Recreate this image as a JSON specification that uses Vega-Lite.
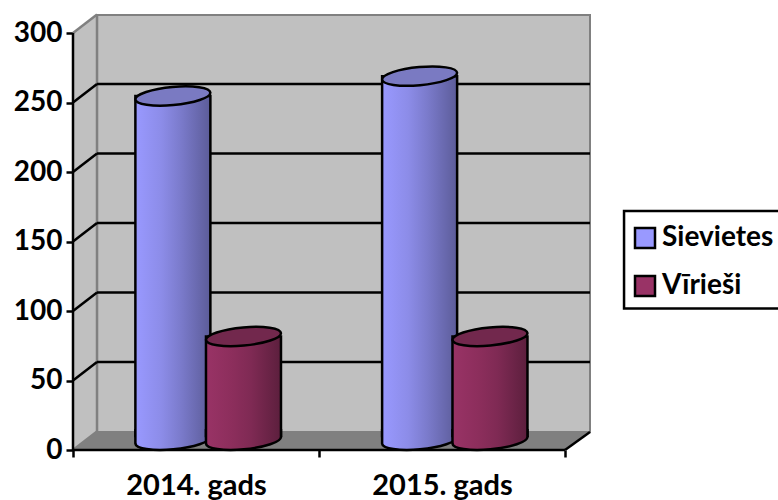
{
"$schema":"https://vega.github.io/schema/vega-lite/v6.json",
"autosize":{"type":"none"},
"width":517,"height":435,
"padding":{"left":73,"top":15,"right":188,"bottom":50},
"background":"white",
"config":{"view":{"stroke":null},"font":"Lato"},
"datasets":{
"bars":[
{"gads":"2014. gads","series":"Sievietes","pos":0.406,"value":254.7},
{"gads":"2015. gads","series":"Sievietes","pos":1.409,"value":269},
{"gads":"2014. gads","series":"Vīrieši","pos":0.693,"value":81.7},
{"gads":"2015. gads","series":"Vīrieši","pos":1.695,"value":81.7}],
"grid":[{"v":50},{"v":100},{"v":150},{"v":200},{"v":250}],
"edge":[{"v":0},{"v":300}],
"leftWall":[{"a":0,"lo":0,"hi":300},{"a":0.0976,"lo":13,"hi":313}],
"floor":[{"a":0,"lo":0,"hi":0},{"a":0.0976,"lo":0,"hi":13},{"a":2,"lo":0,"hi":13},{"a":2.1016,"lo":13,"hi":13}],
"one":[{"k":1}]
},
"encoding":{
"x":{"type":"quantitative","scale":{"domain":[0,2.1016],"nice":false,"zero":false,"padding":0},"title":null},
"y":{"type":"quantitative","scale":{"domain":[0,313],"nice":false,"padding":0},"title":null}
},
"layer":[
{"data":{"name":"one"},
 "mark":{"type":"rect","fill":"#c0c0c0","stroke":"#808080","strokeWidth":2},
 "encoding":{"x":{"datum":0.0976,"type":"quantitative",
   "axis":{"values":[0,0.5,1,1.5,2],"domain":false,"grid":false,"tickColor":"black","tickWidth":2.5,"tickSize":7,
     "tickOpacity":{"condition":{"test":"datum.value==0.5||datum.value==1.5","value":0},"value":1},
     "labelExpr":"datum.value==0.5?'2014. gads':datum.value==1.5?'2015. gads':''",
     "labelFont":"Lato","labelFontWeight":"bold","labelFontSize":29,"labelColor":"black","labelPadding":14,"labelOverlap":false,"labelBound":false,"labelFlush":false}},
  "x2":{"datum":2.1016},
  "y":{"datum":13,"type":"quantitative",
   "axis":{"values":[0,50,100,150,200,250,300],"domain":false,"grid":false,"tickColor":"black","tickWidth":2.5,"tickSize":7,
     "labelFont":"Lato","labelFontWeight":"bold","labelFontSize":28,"labelColor":"black","labelPadding":4}},
  "y2":{"datum":313}}},
{"data":{"name":"leftWall"},
 "mark":{"type":"area","fill":"#c0c0c0","opacity":1},
 "encoding":{"x":{"field":"a","type":"quantitative"},"y":{"field":"lo","type":"quantitative"},"y2":{"field":"hi"}}},
{"data":{"name":"floor"},
 "mark":{"type":"area","fill":"#808080","opacity":1},
 "encoding":{"x":{"field":"a","type":"quantitative"},"y":{"field":"lo","type":"quantitative"},"y2":{"field":"hi"}}},
{"data":{"name":"edge"},
 "mark":{"type":"rule","stroke":"#808080","strokeWidth":2.5,"y2Offset":-18.5},
 "encoding":{"x":{"datum":0},"x2":{"datum":0.0976},"y":{"field":"v","type":"quantitative"},"y2":{"field":"v"}}},
{"data":{"name":"one"},
 "mark":{"type":"rule","stroke":"#808080","strokeWidth":2.5},
 "encoding":{"x":{"datum":0.0976},"y":{"datum":13},"y2":{"datum":313}}},
{"data":{"name":"grid"},
 "mark":{"type":"rule","stroke":"black","strokeWidth":2.5,"y2Offset":-18.5},
 "encoding":{"x":{"datum":0},"x2":{"datum":0.0976},"y":{"field":"v","type":"quantitative"},"y2":{"field":"v"}}},
{"data":{"name":"grid"},
 "mark":{"type":"rule","stroke":"black","strokeWidth":2.5,"yOffset":-18.5},
 "encoding":{"x":{"datum":0.0976},"x2":{"datum":2.1016},"y":{"field":"v","type":"quantitative"}}},
{"data":{"name":"one"},
 "mark":{"type":"rule","stroke":"black","strokeWidth":2.5},
 "encoding":{"x":{"datum":0},"y":{"datum":0},"y2":{"datum":300}}},
{"data":{"name":"one"},
 "mark":{"type":"rule","stroke":"black","strokeWidth":2.5},
 "encoding":{"x":{"datum":0},"x2":{"datum":2},"y":{"datum":0}}},
{"data":{"name":"one"},
 "mark":{"type":"rule","stroke":"black","strokeWidth":2.5},
 "encoding":{"x":{"datum":2},"x2":{"datum":2.1016},"y":{"datum":0},"y2":{"datum":13}}},

{"data":{"name":"bars"},"transform":[{"filter":"datum.series=='Sievietes'"}],
 "mark":{"type":"bar","orient":"vertical","size":75,"stroke":"black","strokeWidth":2.5,
  "fill":{"x1":0,"y1":0,"x2":1,"y2":0,"gradient":"linear","stops":[{"offset":0,"color":"#9999ff"},{"offset":0.35,"color":"#8c8ce8"},{"offset":0.6,"color":"#7b7bcc"},{"offset":1,"color":"#5c5c99"}]}},
 "encoding":{"x":{"field":"pos","type":"quantitative"},"y":{"field":"value","type":"quantitative"},"y2":{"datum":10}}},
{"data":{"name":"bars"},"transform":[{"filter":"datum.series=='Sievietes'"}],
 "mark":{"type":"point","filled":true,"opacity":1,"size":5625,"stroke":"black","strokeWidth":2.5,
  "shape":"M-1,-0.3 L-1,0.09 A1,0.24 -5.3 0 0 1,-0.09 L1,-0.3",
  "fill":{"x1":0,"y1":0,"x2":1,"y2":0,"gradient":"linear","stops":[{"offset":0,"color":"#9999ff"},{"offset":0.35,"color":"#8c8ce8"},{"offset":0.6,"color":"#7b7bcc"},{"offset":1,"color":"#5c5c99"}]}},
 "encoding":{"x":{"field":"pos","type":"quantitative"},"y":{"datum":7}}},
{"data":{"name":"bars"},"transform":[{"filter":"datum.series=='Sievietes'"}],
 "mark":{"type":"point","filled":true,"opacity":1,"size":5625,"stroke":"black","strokeWidth":2.5,"fill":"#7a7ac2",
  "shape":"M-1,0.09 A1,0.24 -5.3 1 1 1,-0.09 A1,0.24 -5.3 1 1 -1,0.09 Z"},
 "encoding":{"x":{"field":"pos","type":"quantitative"},"y":{"field":"value","type":"quantitative"}}},

{"data":{"name":"bars"},"transform":[{"filter":"datum.series=='Vīrieši'"}],
 "mark":{"type":"bar","orient":"vertical","size":75,"stroke":"black","strokeWidth":2.5,
  "fill":{"x1":0,"y1":0,"x2":1,"y2":0,"gradient":"linear","stops":[{"offset":0,"color":"#993366"},{"offset":0.35,"color":"#8c2e5c"},{"offset":0.6,"color":"#7f2a54"},{"offset":1,"color":"#5c1f3d"}]}},
 "encoding":{"x":{"field":"pos","type":"quantitative"},"y":{"field":"value","type":"quantitative"},"y2":{"datum":10}}},
{"data":{"name":"bars"},"transform":[{"filter":"datum.series=='Vīrieši'"}],
 "mark":{"type":"point","filled":true,"opacity":1,"size":5625,"stroke":"black","strokeWidth":2.5,
  "shape":"M-1,-0.3 L-1,0.09 A1,0.24 -5.3 0 0 1,-0.09 L1,-0.3",
  "fill":{"x1":0,"y1":0,"x2":1,"y2":0,"gradient":"linear","stops":[{"offset":0,"color":"#993366"},{"offset":0.35,"color":"#8c2e5c"},{"offset":0.6,"color":"#7f2a54"},{"offset":1,"color":"#5c1f3d"}]}},
 "encoding":{"x":{"field":"pos","type":"quantitative"},"y":{"datum":7}}},
{"data":{"name":"bars"},"transform":[{"filter":"datum.series=='Vīrieši'"}],
 "mark":{"type":"point","filled":true,"opacity":1,"size":5625,"stroke":"black","strokeWidth":2.5,"fill":"#72284d",
  "shape":"M-1,0.09 A1,0.24 -5.3 1 1 1,-0.09 A1,0.24 -5.3 1 1 -1,0.09 Z"},
 "encoding":{"x":{"field":"pos","type":"quantitative"},"y":{"field":"value","type":"quantitative"}}},

{"data":{"name":"one"},
 "mark":{"type":"rect","fill":"white","stroke":"black","strokeWidth":2.5},
 "encoding":{"x":{"datum":2.24},"x2":{"datum":2.95},"y":{"datum":172},"y2":{"datum":101.8}}},
{"data":{"name":"bars"},
 "mark":{"type":"point","filled":true,"shape":"square","size":1,"opacity":0},
 "encoding":{"x":{"field":"pos","type":"quantitative"},"y":{"field":"value","type":"quantitative"},
  "color":{"field":"series","type":"nominal","scale":{"domain":["Sievietes","Vīrieši"],"range":["#9999ff","#993366"]},
   "legend":{"title":null,"orient":"none","legendX":548,"legendY":198,"direction":"vertical",
    "padding":10,
    "symbolType":"square","symbolSize":400,"symbolStrokeColor":"black","symbolStrokeWidth":2.5,"symbolOpacity":1,
    "labelFont":"Lato","labelFontWeight":"bold","labelFontSize":28,"labelColor":"black","labelOffset":3,"labelLimit":200,
    "clipHeight":30,"rowPadding":18}}}}
]
}
